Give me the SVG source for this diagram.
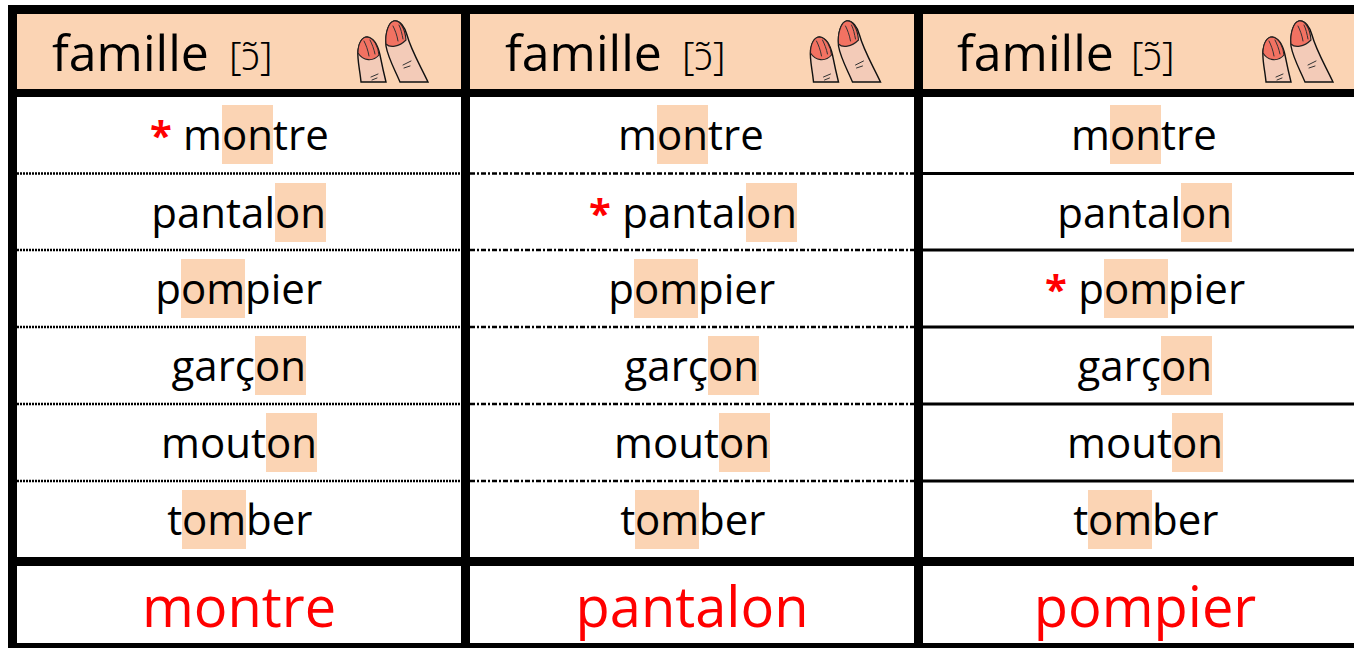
<svg xmlns="http://www.w3.org/2000/svg" xmlns:xlink="http://www.w3.org/1999/xlink" width="1354" height="648" viewBox="0 0 1354 648">
<style>
.hd{font-family:"Open Sans","Noto Sans",sans-serif;font-size:50px;fill:#000}
.ipa{font-family:"Noto Sans","DejaVu Sans",sans-serif;font-size:39px;font-weight:300}
.w{font-family:"Open Sans","Noto Sans",sans-serif;font-size:42px;fill:#000}
.ast{fill:#FF0000;font-size:40px;font-weight:bold}
.big{font-family:"Open Sans","Noto Sans",sans-serif;font-size:56px;fill:#FF0000;text-anchor:middle}
.hl{fill:#FBD4B4}
.hbg{fill:#FBD4B4}
.cell{fill:#FFFFFF}
.dot{stroke:#000;stroke-width:2.5;stroke-dasharray:2 1;fill:none}
.dash{stroke:#000;stroke-width:2.5;stroke-dasharray:5 2 2 2;fill:none}
.solid{stroke:#000;stroke-width:3;fill:none}
.skin{fill:#F3CBB8;stroke:#111;stroke-width:1.4}
.nail{fill:#F27262;stroke:#222;stroke-width:1.1}
.crease{stroke:#333;stroke-width:1;fill:none;stroke-linecap:round}
</style>
<defs>
<symbol id="fingers" overflow="visible">
<path class="skin" d="M361,82 C360,70 357,60 358,50 C359,42 363,37 367,37 C374,38 378,46 380,55 C382,65 384,74 386,82 Z"/>
<path class="nail" d="M358,53 C358,43 362,37 367,37 C374,38 378,46 379,55 C373,62 363,61 358,53 Z"/>
<path class="crease" d="M364,41 C366,45 368,50 369,56 M370,40 C372,44 374,49 375,54"/>
<path class="crease" d="M371,77 L378,74 M372,80 L377,78"/>
<path class="skin" d="M400,82 C395,70 388,58 386,46 C385,34 388,23 394,21 C400,20 405,27 407,35 C411,50 420,65 428,82 Z"/>
<path class="nail" d="M386,44 C385,32 389,22 394,21 C400,20 405,28 406,40 C399,47 390,48 386,44 Z"/>
<path class="crease" d="M393,26 C395,30 397,35 398,41 M399,25 C401,29 402,34 403,39"/>
<path class="crease" d="M403,65 L411,61 M404,68 L410,66"/>
</symbol>
</defs>
<rect x="0" y="0" width="1354" height="648" fill="#FFFFFF"/>
<g id="frame">
<rect x="8" y="5" width="1360" height="650" fill="#000"/>
<rect class="hbg" x="17" y="14" width="444" height="75"/>
<rect class="hbg" x="470" y="14" width="444" height="75"/>
<rect class="hbg" x="923" y="14" width="444" height="75"/>
<rect class="cell" x="17" y="97" width="444" height="460"/>
<rect class="cell" x="470" y="97" width="444" height="460"/>
<rect class="cell" x="923" y="97" width="444" height="460"/>
<rect class="cell" x="17" y="566" width="444" height="77"/>
<rect class="cell" x="470" y="566" width="444" height="77"/>
<rect class="cell" x="923" y="566" width="444" height="77"/>
</g>
<g id="connectors">
<path class="dot" d="M17,173.5H461M17,250H461M17,327H461M17,404H461M17,481H461"/>
<path class="dash" d="M470,173.5H914M470,250H914M470,327H914M470,404H914M470,481H914"/>
<path class="solid" d="M923,173.5H1354M923,250H1354M923,327H1354M923,404H1354M923,481H1354"/>
</g>
<g id="col1">
<g id="head1">
<text class="hd" x="52" y="71">famille <tspan class="ipa" x="229" y="70">[ɔ̃]</tspan></text>
<use xlink:href="#fingers" href="#fingers"/>
</g>
<g id="c1r1"><rect class="hl" x="222" y="105" width="51" height="59"/><text class="w" y="150"><tspan class="ast" x="150">* </tspan><tspan x="182.9">m</tspan><tspan x="222">on</tspan><tspan x="273">tre</tspan></text></g>
<g id="c1r2"><rect class="hl" x="275" y="183" width="51" height="59"/><text class="w" y="228"><tspan x="151.3">pantal</tspan><tspan x="275">on</tspan></text></g>
<g id="c1r3"><rect class="hl" x="181" y="259" width="64" height="59"/><text class="w" y="304"><tspan x="155.3">p</tspan><tspan x="181">om</tspan><tspan x="245">pier</tspan></text></g>
<g id="c1r4"><rect class="hl" x="255" y="336" width="51" height="59"/><text class="w" y="381"><tspan x="171.5">garç</tspan><tspan x="255">on</tspan></text></g>
<g id="c1r5"><rect class="hl" x="266" y="413" width="51" height="59"/><text class="w" y="458"><tspan x="161">mout</tspan><tspan x="266">on</tspan></text></g>
<g id="c1r6"><rect class="hl" x="182" y="490" width="64" height="59"/><text class="w" y="535"><tspan x="167.2">t</tspan><tspan x="182">om</tspan><tspan x="246">ber</tspan></text></g>
<g id="c1foot"><text class="big" x="239" y="627">montre</text></g>
</g>
<g id="col2">
<g id="head2">
<text class="hd" x="505" y="71">famille <tspan class="ipa" x="682" y="70">[ɔ̃]</tspan></text>
<use xlink:href="#fingers" href="#fingers" x="452.5"/>
</g>
<g id="c2r1"><rect class="hl" x="657" y="105" width="51" height="59"/><text class="w" y="150"><tspan x="617.9">m</tspan><tspan x="657">on</tspan><tspan x="708">tre</tspan></text></g>
<g id="c2r2"><rect class="hl" x="746" y="183" width="51" height="59"/><text class="w" y="228"><tspan class="ast" x="589">* </tspan><tspan x="622.3">pantal</tspan><tspan x="746">on</tspan></text></g>
<g id="c2r3"><rect class="hl" x="634" y="259" width="64" height="59"/><text class="w" y="304"><tspan x="608.3">p</tspan><tspan x="634">om</tspan><tspan x="698">pier</tspan></text></g>
<g id="c2r4"><rect class="hl" x="708" y="336" width="51" height="59"/><text class="w" y="381"><tspan x="624.5">garç</tspan><tspan x="708">on</tspan></text></g>
<g id="c2r5"><rect class="hl" x="719" y="413" width="51" height="59"/><text class="w" y="458"><tspan x="614">mout</tspan><tspan x="719">on</tspan></text></g>
<g id="c2r6"><rect class="hl" x="635" y="490" width="64" height="59"/><text class="w" y="535"><tspan x="620.2">t</tspan><tspan x="635">om</tspan><tspan x="699">ber</tspan></text></g>
<g id="c2foot"><text class="big" x="692" y="627">pantalon</text></g>
</g>
<g id="col3">
<g id="head3">
<text class="hd" x="957" y="71">famille <tspan class="ipa" x="1131" y="70">[ɔ̃]</tspan></text>
<use xlink:href="#fingers" href="#fingers" x="905"/>
</g>
<g id="c3r1"><rect class="hl" x="1110" y="105" width="51" height="59"/><text class="w" y="150"><tspan x="1070.9">m</tspan><tspan x="1110">on</tspan><tspan x="1161">tre</tspan></text></g>
<g id="c3r2"><rect class="hl" x="1181" y="183" width="51" height="59"/><text class="w" y="228"><tspan x="1057.3">pantal</tspan><tspan x="1181">on</tspan></text></g>
<g id="c3r3"><rect class="hl" x="1104" y="259" width="64" height="59"/><text class="w" y="304"><tspan class="ast" x="1045">* </tspan><tspan x="1078.3">p</tspan><tspan x="1104">om</tspan><tspan x="1168">pier</tspan></text></g>
<g id="c3r4"><rect class="hl" x="1161" y="336" width="51" height="59"/><text class="w" y="381"><tspan x="1077.5">garç</tspan><tspan x="1161">on</tspan></text></g>
<g id="c3r5"><rect class="hl" x="1172" y="413" width="51" height="59"/><text class="w" y="458"><tspan x="1067">mout</tspan><tspan x="1172">on</tspan></text></g>
<g id="c3r6"><rect class="hl" x="1088" y="490" width="64" height="59"/><text class="w" y="535"><tspan x="1073.2">t</tspan><tspan x="1088">om</tspan><tspan x="1152">ber</tspan></text></g>
<g id="c3foot"><text class="big" x="1145" y="627">pompier</text></g>
</g>
</svg>
